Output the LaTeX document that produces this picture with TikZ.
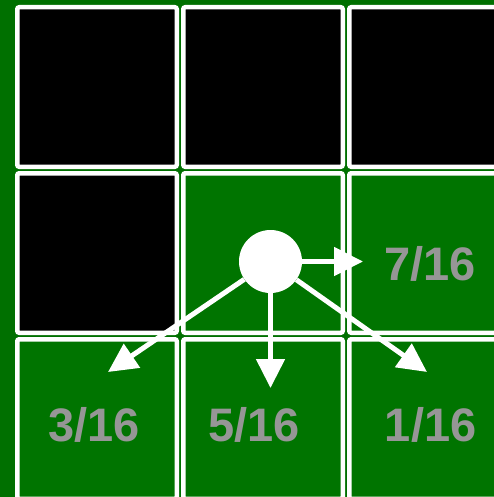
\documentclass[tikz,border=0pt]{standalone}
\usepackage{fontspec}
\setmainfont{Liberation Sans}
\usetikzlibrary{arrows.meta}
\definecolor{bg}{RGB}{0,112,0}
\definecolor{cellgreen}{RGB}{0,116,0}
\definecolor{txt}{RGB}{150,150,150}
\begin{document}
\begin{tikzpicture}[x=1pt,y=-1pt,
  cellb/.style={draw=white,line width=4.5pt,fill=black,rounded corners=2pt,minimum size=159.5pt,inner sep=0pt},
  cellg/.style={draw=white,line width=4.5pt,fill=cellgreen,rounded corners=2pt,minimum size=159.5pt,inner sep=0pt},
  arr/.style={draw=white,line width=5pt,-{Triangle[length=29pt,width=28pt]}},
  lbl/.style={text=txt,font=\bfseries\fontsize{47}{47}\selectfont,inner sep=0pt,anchor=base}]
\fill[bg] (0,0) rectangle (494,497);
\useasboundingbox (0,0) rectangle (494,497);
\node[cellb] (c00) at (97,87) {};
\node[cellb] (c10) at (263,87) {};
\node[cellb] (c20) at (429,87) {};
\node[cellb] (c01) at (97,253) {};
\node[cellg] (c11) at (263,253) {};
\node[cellg] (c21) at (429,253) {};
\node[cellg] (c02) at (97,419) {};
\node[cellg] (c12) at (263,419) {};
\node[cellg] (c22) at (429,419) {};
\node[lbl] (t7) at (430.3,280) {7/16};
\node[lbl] (t3) at (94.2,441) {3/16};
\node[lbl] (t5) at (254.2,441) {5/16};
\node[lbl] (t1) at (430.7,441) {1/16};
\node[circle,fill=white,minimum size=63pt,inner sep=0pt] (p) at (270.5,261.5) {};
\coordinate (ar) at (363,261.5);
\coordinate (ad) at (270.5,388);
\coordinate (adl) at (108,372);
\coordinate (adr) at (427,372);
\draw[arr] (p) -- (ar);
\draw[arr] (p) -- (ad);
\draw[arr] (p) -- (adl);
\draw[arr] (p) -- (adr);
\end{tikzpicture}
\end{document}
